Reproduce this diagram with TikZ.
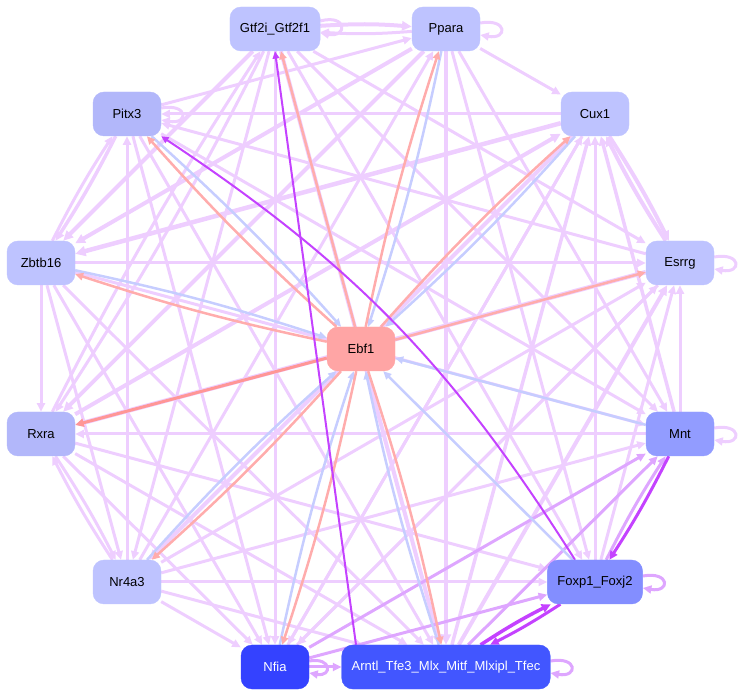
\documentclass[tikz,border=0pt]{standalone}
\usepackage{fontspec}
\setmainfont{Liberation Sans}
\usetikzlibrary{arrows.meta,backgrounds}

\definecolor{edgelilac}{RGB}{238,206,255}
\definecolor{edgeviolet}{RGB}{222,166,255}
\definecolor{edgepurple}{RGB}{196,66,255}
\definecolor{edgesalmon}{RGB}{255,172,172}
\definecolor{edgesalmond}{RGB}{255,150,150}
\definecolor{edgeblue}{RGB}{198,205,255}
\definecolor{geneA}{RGB}{190,195,255}
\definecolor{geneB}{RGB}{178,183,250}
\definecolor{geneC}{RGB}{146,156,255}
\definecolor{geneD}{RGB}{131,142,255}
\definecolor{geneE}{RGB}{52,66,255}
\definecolor{geneF}{RGB}{66,86,255}
\definecolor{geneG}{RGB}{255,165,165}

\begin{document}
\begin{tikzpicture}[x=1pt,y=1pt,
    gene/.style={rectangle,rounded corners=11pt,fill=#1,draw=#1,
        minimum width=68pt,minimum height=44pt,inner xsep=10pt,
        font=\fontsize{13}{15}\selectfont},
    hub/.style={gene=#1,text=white},
    lil/.style={draw=edgelilac,line width=#1,-{Triangle[length=5pt 1.2,width=4pt 1.3]}},
    lil/.default=3pt,
    vio/.style={draw=edgeviolet,line width=#1,-{Triangle[length=5pt 1.2,width=4pt 1.3]}},
    vio/.default=3pt,
    pur/.style={draw=edgepurple,line width=#1,-{Triangle[length=5pt 1.2,width=4pt 1.3]}},
    pur/.default=2pt,
    sal/.style={draw=edgesalmon,line width=#1,-{Triangle[length=5pt 1.2,width=4pt 1.3]}},
    sal/.default=2.5pt,
    blu/.style={draw=edgeblue,line width=#1,-{Triangle[length=5pt 1.2,width=4pt 1.3]}},
    blu/.default=2.5pt
]
 \useasboundingbox (0,0) rectangle (746,698);

 % genes
 \node[gene=geneA] (gtf)   at (275,669) {Gtf2i\_Gtf2f1};
 \node[gene=geneA] (ppara) at (446,669) {Ppara};
 \node[gene=geneB] (pitx)  at (127,584) {Pitx3};
 \node[gene=geneA] (cux)   at (595,584) {Cux1};
 \node[gene=geneA] (zbtb)  at (41,435)  {Zbtb16};
 \node[gene=geneA] (esrrg) at (680,435) {Esrrg};
 \node[gene=geneG] (ebf)   at (361,349) {Ebf1};
 \node[gene=geneB] (rxra)  at (41,264)  {Rxra};
 \node[gene=geneC] (mnt)   at (680,264) {Mnt};
 \node[gene=geneA] (nr4a)  at (127,116) {Nr4a3};
 \node[gene=geneD] (foxp)  at (595,116) {Foxp1\_Foxj2};
 \node[hub=geneE]  (nfia)  at (275,31)  {Nfia};
 \node[hub=geneF]  (arntl) at (446,31)  {Arntl\_Tfe3\_Mlx\_Mitf\_Mlxipl\_Tfec};

 \begin{scope}[on background layer]
 % light edges
 \path (gtf) edge[lil=4pt,bend left=4] (ppara)
             edge[lil=4pt] (zbtb)
             edge[lil,bend left=3] (rxra)
             edge[lil] (nr4a)
             edge[lil] (nfia)
             edge[lil=4pt] (arntl)
             edge[lil] (esrrg)
             edge[lil] (mnt)
             edge[lil] (foxp);
 \path (ppara) edge[lil,bend left=4] (gtf)
               edge[lil] (cux)
               edge[lil=4pt] (zbtb)
               edge[lil=4pt] (rxra)
               edge[lil=4.5pt] (arntl)
               edge[lil] (mnt)
               edge[lil] (foxp);
 \path (pitx) edge[lil] (ppara)
              edge[lil=3.5pt,bend left=3] (zbtb)
              edge[lil] (nfia)
              edge[lil] (arntl)
              edge[lil] (mnt);
 \path (cux) edge[lil] (pitx)
             edge[lil=4.5pt] (zbtb)
             edge[lil=4pt] (nr4a)
             edge[lil] (nfia)
             edge[lil=4pt,bend left=3] (esrrg);
 \path (esrrg) edge[lil] (pitx)
               edge[lil=4pt,bend left=3] (cux)
               edge[lil=4.5pt] (rxra)
               edge[lil] (nfia);
 \path (zbtb) edge[lil,bend left=3] (pitx)
              edge[lil] (rxra)
              edge[lil] (nr4a)
              edge[lil] (esrrg)
              edge[lil] (mnt)
              edge[lil] (arntl)
              edge[lil] (nfia);
 \path (rxra) edge[lil,bend left=3] (gtf)
              edge[lil=4pt] (cux)
              edge[lil,bend left=3] (nr4a)
              edge[lil] (foxp)
              edge[lil] (arntl)
              edge[lil] (nfia);
 \path (mnt) edge[lil=3.5pt] (cux)
             edge[lil] (esrrg)
             edge[lil] (rxra);
 \path (nr4a) edge[lil] (pitx)
              edge[lil] (ppara)
              edge[lil,bend left=3] (rxra)
              edge[lil] (esrrg)
              edge[lil] (mnt)
              edge[lil] (foxp)
              edge[lil] (arntl)
              edge[lil] (nfia);
 \path (foxp) edge[lil] (cux)
              edge[lil] (esrrg);
 \path (nfia) edge[lil] (cux)
              edge[lil] (esrrg);
 \path (arntl) edge[lil=3.5pt] (cux)
               edge[lil=4pt] (esrrg);

 % self loops
 \draw[lil] ([yshift=8pt]gtf.east) to[out=15,in=-10,looseness=6] ([yshift=-4pt]gtf.east);
 \draw[lil] ([yshift=6pt]ppara.east) to[out=10,in=-10,looseness=6] ([yshift=-6pt]ppara.east);
 \draw[lil] ([yshift=6pt]pitx.east) to[out=10,in=-10,looseness=6] ([yshift=-6pt]pitx.east);
 \draw[lil] ([yshift=6pt]esrrg.east) to[out=10,in=-10,looseness=6] ([yshift=-6pt]esrrg.east);
 \draw[lil] ([yshift=6pt]mnt.east) to[out=10,in=-10,looseness=6] ([yshift=-6pt]mnt.east);
 \draw[vio] ([yshift=6pt]foxp.east) to[out=10,in=-10,looseness=6] ([yshift=-6pt]foxp.east);
 \draw[vio] ([yshift=6pt]nfia.east) to[out=10,in=-10,looseness=5] ([yshift=-6pt]nfia.east);
 \draw[vio] ([yshift=6pt]arntl.east) to[out=10,in=-10,looseness=6] ([yshift=-6pt]arntl.east);

 % stronger edges
 \path (foxp) edge[vio,bend left=3] (mnt);
 \path (nfia) edge[vio] (mnt)
              edge[vio] (foxp)
              edge[vio] (arntl);
 \path (arntl) edge[vio] (mnt);

 % edges into Ebf1
 \path (pitx)  edge[blu,bend left=3] (ebf);
 \path (zbtb)  edge[blu,bend left=3] (ebf);
 \path (ppara) edge[blu,bend left=3] (ebf);
 \path (cux)   edge[blu,bend left=3] (ebf);
 \path (mnt)   edge[blu] (ebf);
 \path (foxp)  edge[blu] (ebf);
 \path (nr4a)  edge[blu,bend left=3] (ebf);
 \path (nfia)  edge[blu,bend left=3] (ebf);
 \path (arntl) edge[blu,bend left=3] (ebf);

 % edges out of Ebf1
 \path (ebf) edge[sal,bend left=3] (pitx)
             edge[sal] (gtf)
             edge[sal,bend left=3] (ppara)
             edge[sal,bend left=3] (cux)
             edge[sal] (esrrg)
             edge[sal,bend left=3] (zbtb)
             edge[sal=3pt,draw=edgesalmond] (rxra)
             edge[sal,bend left=3] (nr4a)
             edge[sal,bend left=3] (nfia)
             edge[sal,bend left=3] (arntl);

 % strongest edges
 \path ([xshift=-20pt]foxp.north) edge[pur,bend right=12] (pitx.south east);
 \path (foxp) edge[pur=3pt,bend left=3] (arntl);
 \path ([xshift=-90pt]arntl.north) edge[pur] (gtf.south);
 \path (arntl) edge[pur=3.5pt,bend left=3] (foxp);
 \path (mnt) edge[pur=3pt,bend left=3] (foxp);
 \end{scope}
\end{tikzpicture}
\end{document}
